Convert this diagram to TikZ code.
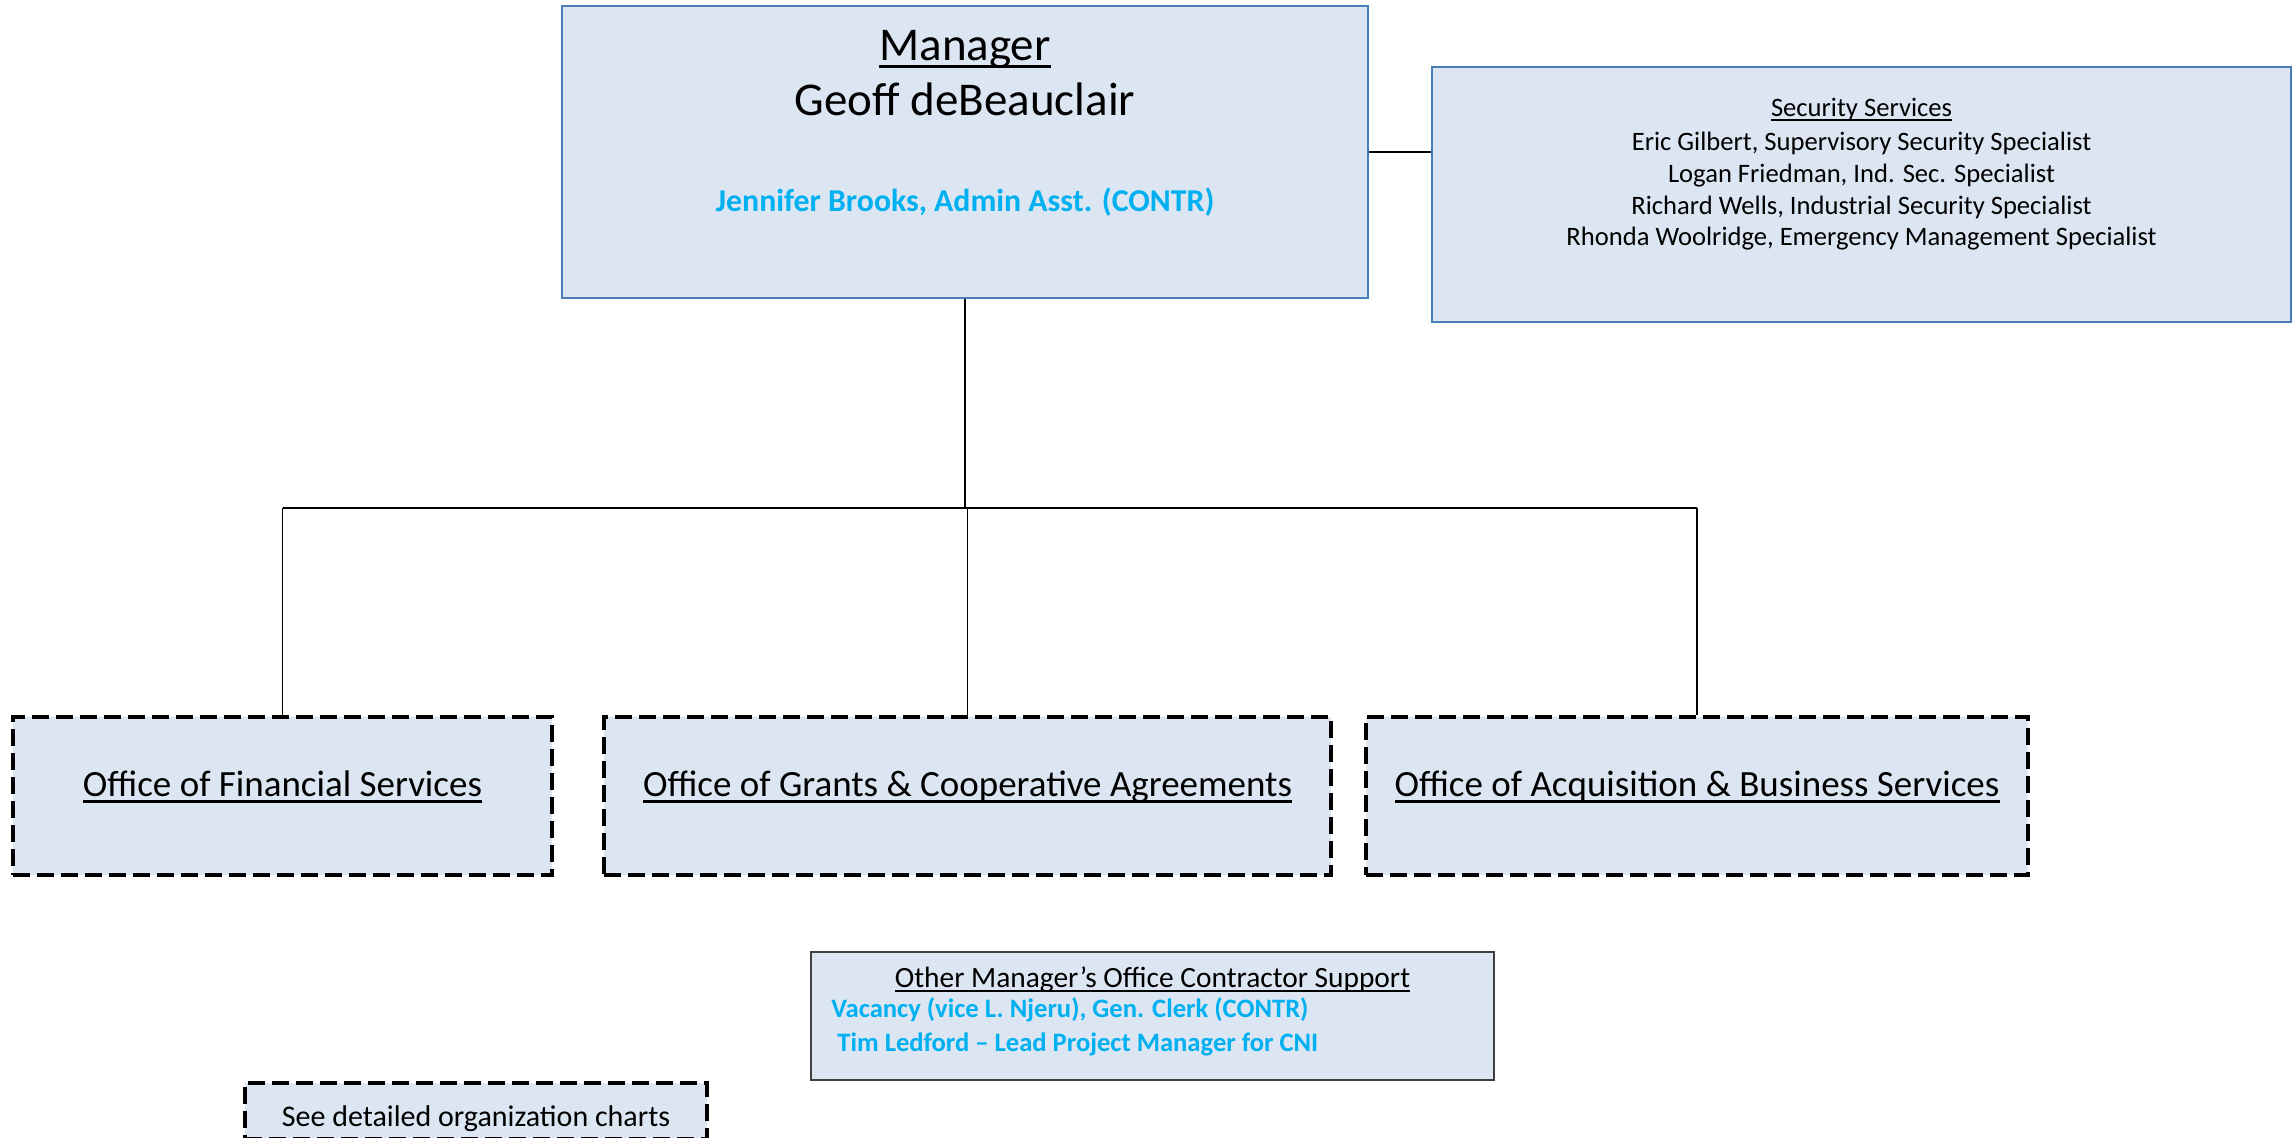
\documentclass[tikz,border=0pt]{standalone}
\usepackage{fontspec}
\setmainfont{Carlito}
\usepackage{tikz}
\usetikzlibrary{positioning}
\usepackage{xcolor}
\definecolor{boxfill}{HTML}{DCE6F2}
\definecolor{boxline}{HTML}{4A7EBB}
\definecolor{contr}{HTML}{00B0F0}
\definecolor{supportline}{HTML}{404040}
\newcommand{\ulin}[1]{\setbox0\hbox{#1}\rlap{\rule[-0.18em]{\wd0}{0.075em}}\box0}
\tikzstyle{topbox} = [rectangle, draw=boxline, line width=1pt, fill=boxfill, inner sep=0pt]
\tikzstyle{office} = [rectangle, draw=black, line width=2.4pt, dash pattern=on 8.3pt off 3.7pt, fill=boxfill, inner sep=0pt, text height=6pt, text depth=6pt, font=\fontsize{18.5}{22}\selectfont]
\tikzstyle{support} = [rectangle, draw=supportline, line width=0.6pt, fill=boxfill, inner sep=0pt]
\tikzstyle{big} = [anchor=base, inner sep=0pt, font=\fontsize{23.5}{28}\selectfont]
\tikzstyle{small} = [anchor=base, inner sep=0pt, font=\fontsize{13.3}{16}\selectfont]
\tikzstyle{contrtext} = [anchor=base west, inner sep=0pt, font=\fontsize{13.3}{16}\selectfont\bfseries, text=contr]
\tikzstyle{line} = [line width=0.75pt]

\begin{document}
\begin{tikzpicture}[x=0.5pt, y=-0.5pt]
\useasboundingbox (0,0) rectangle (2294,1137);

% Manager
\node (mgr) [topbox, minimum width=403pt, minimum height=146pt] at (965,152) {};
\node (mgr_title) [big] at (965,60) {\ulin{Manager}};
\node (mgr_name) [big] at (965,115) {Geoff deBeauclair};
\node (mgr_asst) [anchor=base, inner sep=0pt, font=\fontsize{15.9}{19}\selectfont\bfseries, text=contr] at (965,211) {Jennifer Brooks, Admin Asst. (CONTR)};

% Security Services
\node (sec) [topbox, minimum width=429.5pt, minimum height=127.5pt] at (1861.5,194.5) {};
\node (sec_title) [small] at (1861.5,116) {\ulin{Security Services}};
\node (sec_1) [small] at (1861.5,150) {Eric Gilbert, Supervisory Security Specialist};
\node (sec_2) [small] at (1861.5,182) {Logan Friedman, Ind. Sec. Specialist};
\node (sec_3) [small] at (1861.5,214) {Richard Wells, Industrial Security Specialist};
\node (sec_4) [small] at (1861.5,245) {Rhonda Woolridge, Emergency Management Specialist};

% Offices
\node (fin) [office, minimum width=269.5pt, minimum height=79pt] at (282.5,796) {\ulin{Office of Financial Services}};
\node (grants) [office, minimum width=363.5pt, minimum height=79pt] at (967.5,796) {\ulin{Office of Grants \& Cooperative Agreements}};
\node (acq) [office, minimum width=331pt, minimum height=79pt] at (1697,796) {\ulin{Office of Acquisition \& Business Services}};

% Contractor support
\node (other) [support, minimum width=341.5pt, minimum height=64pt] at (1152.5,1016) {};
\node (other_title) [small, font=\fontsize{14.7}{17}\selectfont] at (1152.5,987) {\ulin{Other Manager’s Office Contractor Support}};
\node (other_1) [contrtext] at (831,1017) {Vacancy (vice L. Njeru), Gen. Clerk (CONTR)};
\node (other_2) [contrtext] at (837,1051) {Tim Ledford -- Lead Project Manager for CNI};

% Legend
\node (legend) [office, minimum width=231pt, minimum height=28pt, text height=15pt, text depth=0pt, font=\fontsize{15}{18}\selectfont] at (476,1111) {See detailed organization charts};

% Lines
\coordinate (bar) at (965,508);
\draw [line] (mgr.east) -- (mgr.east -| sec.west);
\draw [line] (mgr.south) -- (mgr.south |- bar);
\draw [line] (fin.north |- bar) -- (acq.north |- bar);
\draw [line] (fin.north |- bar) -- (fin.north);
\draw [line] (grants.north |- bar) -- (grants.north);
\draw [line] (acq.north |- bar) -- (acq.north);

\end{tikzpicture}
\end{document}
